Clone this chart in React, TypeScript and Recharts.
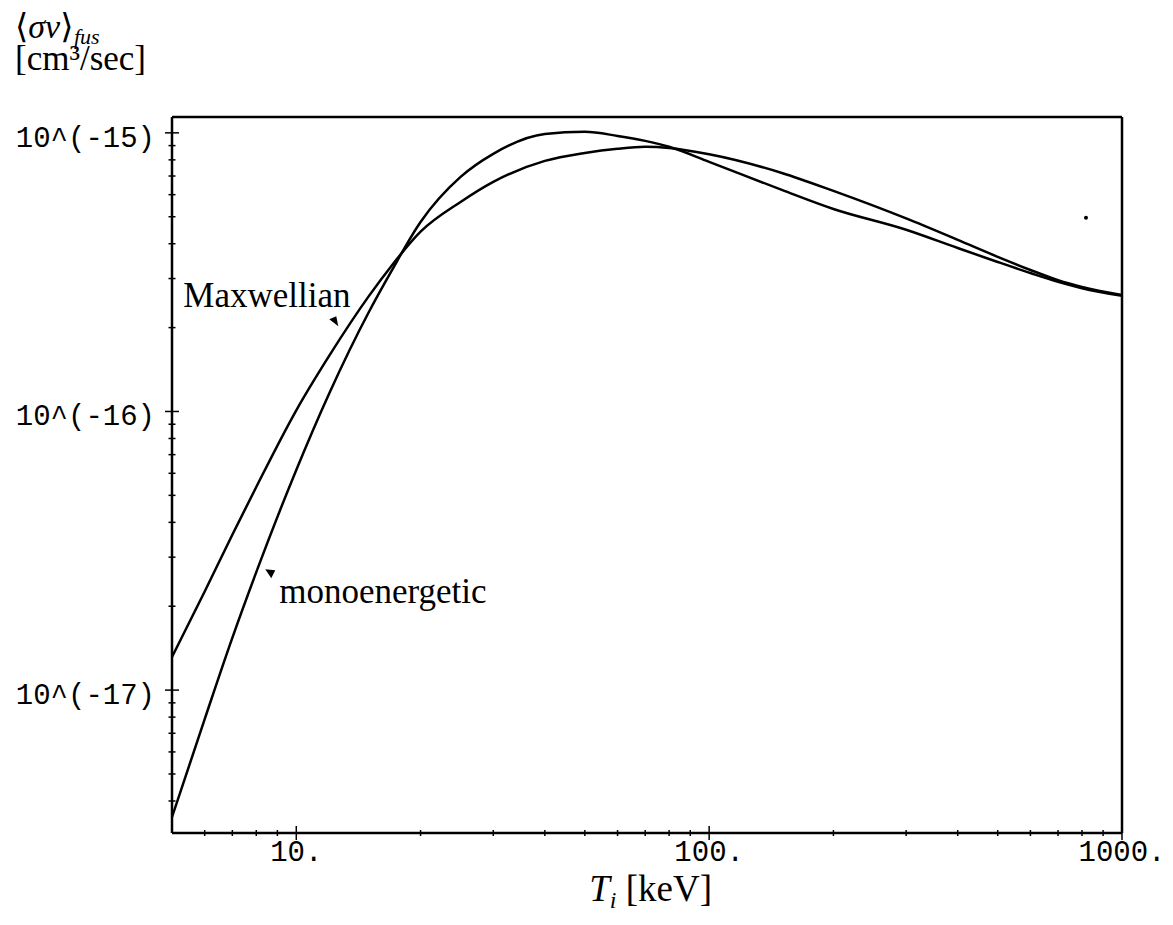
import React from 'react';
import { LineChart, Line, XAxis, YAxis, ReferenceDot, ReferenceLine } from 'recharts';

// Ti [keV] sample points and the two reactivity curves
const temps = [5, 6, 7, 8, 10, 12, 15, 17, 20, 25, 30, 40, 50, 60, 70, 80, 100, 150, 200, 300, 400, 500, 600, 700, 800, 1000];
const maxwellian = [
  1.315e-17, 2.26e-17, 3.61e-17, 5.36e-17, 1.01e-16, 1.58e-16, 2.6e-16, 3.33e-16, 4.42e-16, 5.65e-16,
  6.67e-16, 7.93e-16, 8.47e-16, 8.77e-16, 8.91e-16, 8.83e-16, 8.38e-16, 7.18e-16, 6.19e-16, 4.93e-16,
  4.13e-16, 3.59e-16, 3.22e-16, 2.96e-16, 2.8e-16, 2.62e-16,
];
const monoenergetic = [
  3.5e-18, 7.87e-18, 1.54e-17, 2.65e-17, 6.17e-17, 1.156e-16, 2.28e-16, 3.19e-16, 4.79e-16, 6.95e-16,
  8.41e-16, 9.91e-16, 1.009e-15, 9.75e-16, 9.36e-16, 8.91e-16, 7.87e-16, 6.24e-16, 5.33e-16, 4.49e-16,
  3.86e-16, 3.44e-16, 3.14e-16, 2.92e-16, 2.77e-16, 2.6e-16,
];

const xMajor = [10, 100, 1000];
const xLabels = ['10.', '100.', '1000.'];
const xMinor = [6, 7, 8, 9, 20, 30, 40, 50, 60, 70, 80, 90, 200, 300, 400, 500, 600, 700, 800, 900];

const yMajor = [1e-17, 1e-16, 1e-15];
const yLabels = ['10^(-17)', '10^(-16)', '10^(-15)'];
const yMinor = [
  4e-18, 5e-18, 6e-18, 7e-18, 8e-18, 9e-18,
  2e-17, 3e-17, 4e-17, 5e-17, 6e-17, 7e-17, 8e-17, 9e-17,
  2e-16, 3e-16, 4e-16, 5e-16, 6e-16, 7e-16, 8e-16, 9e-16,
];

const xDomain = [5, 1000];
const yDomain = [3.07e-18, 1.14e-15];

const data = temps.map((t, i) => ({ t, max: maxwellian[i], mono: monoenergetic[i] }));

const monoFont = '"Liberation Mono", "DejaVu Sans Mono", monospace';
const serifFont = '"Liberation Serif", "DejaVu Serif", serif';

const BottomTick = ({ x, y, payload }: any) => {
  const i = xMajor.indexOf(payload.value);
  const len = i >= 0 ? 7 : 3;
  return (
    <g>
      <line x1={x} x2={x} y1={y - len} y2={y + len} stroke="#000" strokeWidth={1.5} />
      {i >= 0 && (
        <text x={x} y={y + 28} textAnchor="middle" fontFamily={monoFont} fontSize={29} fill="#000">
          {xLabels[i]}
        </text>
      )}
    </g>
  );
};

const LeftTick = ({ x, y, payload }: any) => {
  const i = yMajor.indexOf(payload.value);
  const len = i >= 0 ? 7 : 3.5;
  return (
    <g>
      <line x1={x - len} x2={x + len} y1={y} y2={y} stroke="#000" strokeWidth={1.5} />
      {i >= 0 && (
        <text x={x - 17} y={y + 14} textAnchor="end" fontFamily={monoFont} fontSize={29} fill="#000">
          {yLabels[i]}
        </text>
      )}
    </g>
  );
};

const Pointer = ({ cx, cy, points, label, dx, dy }: any) => (
  <g>
    <polygon points={points.map((p: number[]) => `${cx + p[0]},${cy + p[1]}`).join(' ')} fill="#000" />
    <text x={cx + dx} y={cy + dy} fontFamily={serifFont} fontSize={35} fill="#000">
      {label}
    </text>
  </g>
);

export default function App() {
  return (
    <div style={{ position: 'relative', width: 1157, height: 909 }}>
      <LineChart width={1157} height={909} data={data} margin={{ top: 109, right: 43, left: 14, bottom: 44 }}>
        <XAxis
          xAxisId="b"
          dataKey="t"
          type="number"
          scale="log"
          domain={xDomain}
          allowDataOverflow
          ticks={[...xMajor, ...xMinor]}
          interval={0}
          tickSize={0}
          tickMargin={0}
          tickLine={false}
          tick={<BottomTick />}
          height={40}
          axisLine={{ stroke: '#000', strokeWidth: 2.5 }}
        />
        <YAxis
          yAxisId="l"
          type="number"
          scale="log"
          domain={yDomain}
          allowDataOverflow
          ticks={[...yMajor, ...yMinor]}
          interval={0}
          tickSize={0}
          tickMargin={0}
          tickLine={false}
          tick={<LeftTick />}
          width={150}
          axisLine={{ stroke: '#000', strokeWidth: 2.5 }}
        />
        {/* frame: top and right edges */}
        <ReferenceLine xAxisId="b" yAxisId="l" y={yDomain[1]} stroke="#000" strokeWidth={2.5} />
        <ReferenceLine xAxisId="b" yAxisId="l" x={xDomain[1]} stroke="#000" strokeWidth={2.5} />
        <Line xAxisId="b" yAxisId="l" type="monotone" dataKey="max" stroke="#000" strokeWidth={2.5} dot={false} isAnimationActive={false} />
        <Line xAxisId="b" yAxisId="l" type="monotone" dataKey="mono" stroke="#000" strokeWidth={2.5} dot={false} isAnimationActive={false} />
        <ReferenceDot
          xAxisId="b"
          yAxisId="l"
          x={12.36}
          y={2.11e-16}
          shape={(p: any) => (
            <Pointer cx={p.cx} cy={p.cy} points={[[-5, -2], [2, -5], [4, 5]]} label="Maxwellian" dx={-151} dy={-14} />
          )}
        />
        <ReferenceDot
          xAxisId="b"
          yAxisId="l"
          x={8.65}
          y={2.65e-17}
          shape={(p: any) => (
            <Pointer cx={p.cx} cy={p.cy} points={[[-5, -3], [5, -2], [1, 6]]} label="monoenergetic" dx={9} dy={31} />
          )}
        />
        <ReferenceDot xAxisId="b" yAxisId="l" x={818} y={4.96e-16} r={2} fill="#000" stroke="none" />
      </LineChart>
      <svg width={1157} height={909} style={{ position: 'absolute', left: 0, top: 0, pointerEvents: 'none' }}>
        <text x={7} y={30} fontFamily={serifFont} fontSize={34} fill="#000">
          ⟨<tspan fontStyle="italic">σv</tspan>⟩
        </text>
        <text x={66} y={36} fontFamily={serifFont} fontStyle="italic" fontSize={22} fill="#000">
          fus
        </text>
        <text x={7} y={62} fontFamily={serifFont} fontSize={35} fill="#000">
          [cm³/sec]
        </text>
        <text x={704} y={893} textAnchor="end" fontFamily={serifFont} fontSize={37} fill="#000">
          <tspan fontStyle="italic">T</tspan>
          <tspan fontStyle="italic" fontSize={24} dy={7}>i</tspan>
          <tspan dy={-7}> [keV]</tspan>
        </text>
      </svg>
    </div>
  );
}
